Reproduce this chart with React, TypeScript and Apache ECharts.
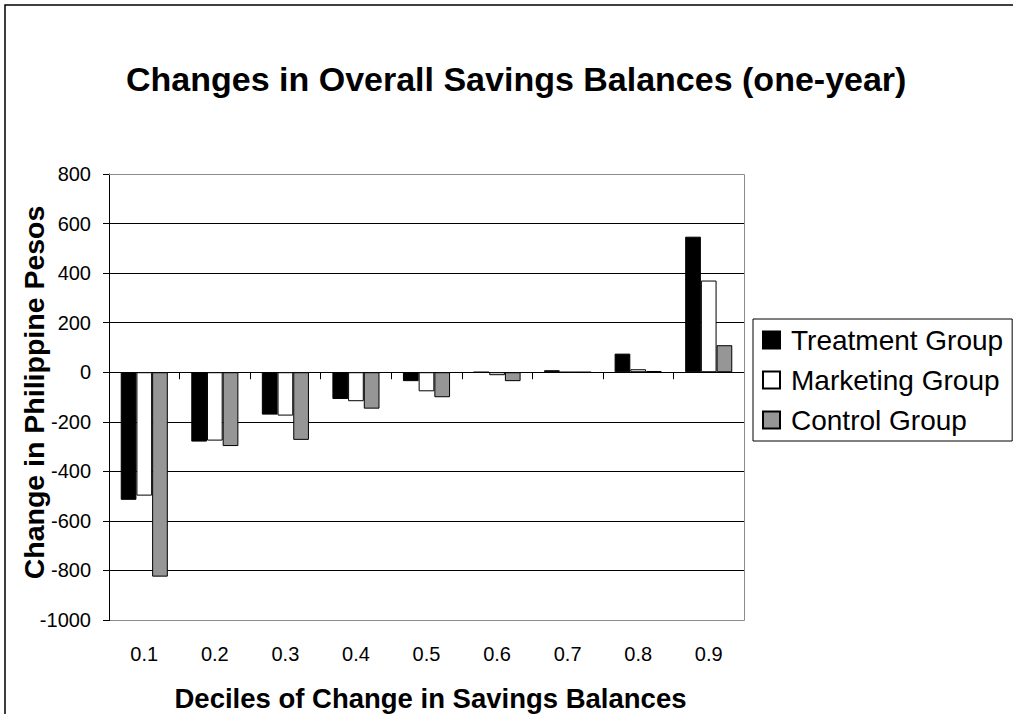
import React, { useEffect, useRef } from "react";
import * as echarts from "echarts";

const categories = ["0.1", "0.2", "0.3", "0.4", "0.5", "0.6", "0.7", "0.8", "0.9"];
const treatment = [-515, -280, -171, -108, -36, 0, 8, 75, 547];
const marketing = [-498, -276, -175, -117, -77, -12, 0, 12, 370];
const control = [-825, -298, -273, -147, -101, -36, 0, 5, 109];
const seriesNames = ["Treatment Group", "Marketing Group", "Control Group"];

const FONT = "'Liberation Sans', Arial, Helvetica, sans-serif";

export default function App() {
  const ref = useRef<HTMLDivElement>(null);
  useEffect(() => {
    if (!ref.current) return;
    const chart = echarts.init(ref.current, undefined, { renderer: "svg" });
    const gl = 109, gt = 174, gr = 744, gb = 620;
    const barStyle = (fill: string) => ({ color: fill, borderColor: "#000", borderWidth: 1 });
    chart.setOption({
      animation: false,
      backgroundColor: "#fff",
      textStyle: { fontFamily: FONT, color: "#000" },
      title: {
        text: "Changes in Overall Savings Balances (one-year)",
        left: 126,
        top: 62,
        padding: 0,
        textStyle: { fontFamily: FONT, fontSize: 34, fontWeight: "bold", color: "#000" },
      },
      legend: {
        orient: "vertical",
        left: 753,
        top: 319,
        data: seriesNames,
        icon: "rect",
        itemWidth: 17,
        itemHeight: 17,
        itemGap: 12,
        selectedMode: false,
        borderColor: "#000",
        borderWidth: 1,
        padding: [7, 9, 7, 9],
        textStyle: { fontFamily: FONT, fontSize: 28, color: "#000", padding: [0, 0, 0, 6] },
      },
      grid: {
        left: gl,
        top: gt,
        right: 1013 - gr,
        bottom: 714 - gb,
        containLabel: false,
        outerBoundsMode: "none",
      },
      xAxis: [
        {
          type: "category",
          data: categories,
          position: "bottom",
          axisLine: { show: false, onZero: false },
          axisTick: { show: false },
          axisLabel: { fontFamily: FONT, fontSize: 20, color: "#000", margin: 24 },
          name: "Deciles of Change in Savings Balances",
          nameLocation: "middle",
          nameGap: 64,
          nameMoveOverlap: false,
          nameTextStyle: {
            fontFamily: FONT,
            fontSize: 27.5,
            fontWeight: "bold",
            color: "#000",
            padding: [0, 0, 0, 8],
          },
          splitLine: { show: false },
        },
        {
          type: "category",
          data: categories,
          position: "bottom",
          axisLine: { show: true, onZero: true, lineStyle: { color: "#000", width: 1 } },
          axisTick: { show: true, length: 7, lineStyle: { color: "#000" } },
          axisLabel: { show: false },
          splitLine: { show: false },
        },
      ],
      yAxis: {
        type: "value",
        min: -1000,
        max: 800,
        interval: 200,
        axisLine: { show: true, lineStyle: { color: "#000", width: 1 } },
        axisTick: { show: true, length: 6, lineStyle: { color: "#000" } },
        axisLabel: {
          fontFamily: FONT,
          fontSize: 20,
          color: "#000",
          margin: 18,
          formatter: (v: number) => String(v),
        },
        splitLine: { show: true, lineStyle: { color: "#000", width: 1 } },
        name: "Change in Philippine Pesos",
        nameLocation: "middle",
        nameRotate: 90,
        nameGap: 61,
        nameMoveOverlap: false,
        nameTextStyle: {
          fontFamily: FONT,
          fontSize: 28.5,
          fontWeight: "bold",
          color: "#000",
          padding: [0, 0, 0, 9],
        },
      },
      series: [
        { name: seriesNames[0], type: "bar", data: treatment, barWidth: 15.7, barGap: "0%", itemStyle: barStyle("#000") },
        { name: seriesNames[1], type: "bar", data: marketing, barWidth: 15.7, barGap: "0%", itemStyle: barStyle("#fff") },
        { name: seriesNames[2], type: "bar", data: control, barWidth: 15.7, barGap: "0%", itemStyle: barStyle("#969696") },
      ],
      graphic: [
        {
          type: "rect",
          z: -10,
          shape: { x: 5, y: 5, width: 1200, height: 1000 },
          style: { fill: "none", stroke: "#000", lineWidth: 1.5 },
          silent: true,
        },
        {
          type: "polyline",
          z: 100,
          shape: { points: [[gl, gt + 0.5], [gr + 0.5, gt + 0.5], [gr + 0.5, gb + 0.5], [gl + 1, gb + 0.5]] },
          style: { fill: "none", stroke: "#8c8c8c", lineWidth: 1 },
          silent: true,
        },
      ],
    });
    return () => chart.dispose();
  }, []);
  return (
    <div
      ref={ref}
      style={{ position: "fixed", left: 0, top: 0, width: 1013, height: 714, background: "#fff" }}
    />
  );
}
